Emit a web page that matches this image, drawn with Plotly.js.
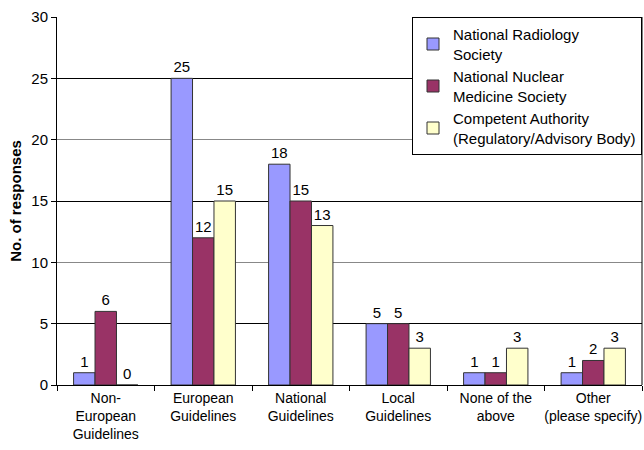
<!DOCTYPE html>
<html><head><meta charset="utf-8">
<script src="https://cdn.plot.ly/plotly-3.0.1.min.js"></script>
<style>body{margin:0;background:#fff}#c{width:644px;height:450px}</style>
</head><body><div id="c"></div>
<script>
const categories = ["Non-<br>European<br>Guidelines","European<br>Guidelines","National<br>Guidelines","Local<br>Guidelines","None of the<br>above","Other<br>(please specify)"];
const radiology = [1,25,18,5,1,1];
const nuclear = [6,12,15,5,1,2];
const authority = [0,15,13,3,3,3];
const seriesNames = ["National Radiology<br>Society","National Nuclear<br>Medicine Society","Competent Authority<br>(Regulatory/Advisory Body)"];
const colors = ["#9999FF","#993366","#FFFFCC"];
const font = "'Liberation Sans', Arial, sans-serif";
const vals = [radiology, nuclear, authority];
const traces = vals.map((v,i)=>({
  type:'bar', x:categories, y:v, name:seriesNames[i],
  marker:{color:colors[i], line:{color:'#333', width:1}},
  text:v.map(String), textposition:'outside', cliponaxis:false,
  textfont:{family:font,size:15,color:'#000'}
}));
// invisible trace on overlay axis to draw alternate gridlines
traces.push({type:'scatter', x:[categories[0]], y:[0], yaxis:'y2', mode:'markers', marker:{opacity:0}, showlegend:false, hoverinfo:'skip'});
const layout = {
  width:644, height:450,
  margin:{l:57, r:2, t:17, b:65},
  paper_bgcolor:'#fff', plot_bgcolor:'#fff',
  font:{family:font, size:15, color:'#000'},
  barmode:'group', bargap:0.34, bargroupgap:0,
  showlegend:true,
  legend:{x:1, xanchor:'right', y:1, yanchor:'top', bgcolor:'#fff', bordercolor:'#000', borderwidth:1,
    font:{family:font,size:15,color:'#000'}, tracegroupgap:0, itemwidth:30},
  xaxis:{type:'category', tickson:'boundaries', ticks:'outside', ticklen:5, tickcolor:'#000', tickangle:0,
    showline:true, linecolor:'#000', linewidth:1, mirror:false, showgrid:false,
    tickfont:{family:font,size:14,color:'#000'}},
  yaxis:{range:[0,30], dtick:5, tick0:0, ticks:'outside', ticklen:5, tickcolor:'#000',
    showline:true, linecolor:'#000', linewidth:1, gridcolor:'#888', gridwidth:1,
    zeroline:false, tickfont:{family:font,size:15,color:'#000'},
    title:{text:'<b>No. of responses</b>', font:{family:font,size:15,color:'#000'}, standoff:6}},
  yaxis2:{overlaying:'y', range:[0,30], tickvals:[5,15,25], showticklabels:false, ticks:'',
    gridcolor:'#000', gridwidth:1, zeroline:false, showline:false},
  shapes:[{type:'line', xref:'paper', yref:'paper', x0:1, x1:1, y0:0, y1:1, line:{color:'#000',width:1}}]
};
Plotly.newPlot('c', traces, layout, {displayModeBar:false, staticPlot:true});
</script></body></html>
